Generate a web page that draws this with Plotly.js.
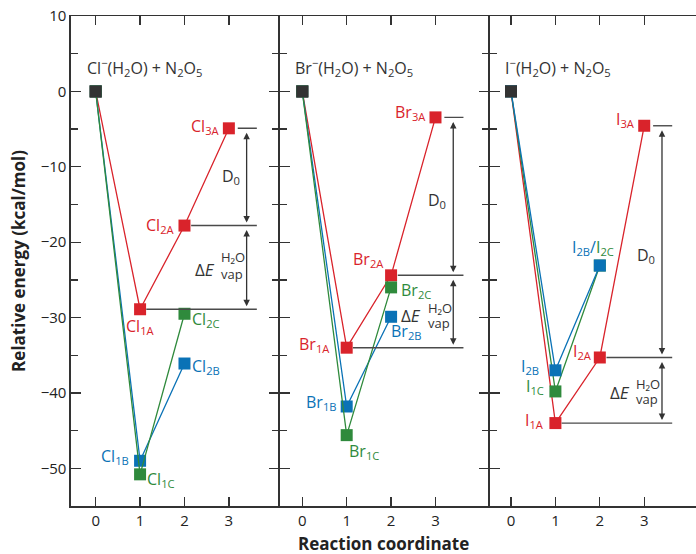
<!DOCTYPE html>
<html>
<head>
<meta charset="utf-8">
<script src="https://cdn.plot.ly/plotly-3.0.1.min.js"></script>
<style>html,body{margin:0;padding:0;background:#fff;}#chart{width:696px;height:554px;}</style>
</head>
<body>
<div id="chart"></div>
<script>
// ---- data (kcal/mol) ----
const coord = [0, 1, 2, 3];
const clA = [0, -28.9, -17.8, -4.9];
const clB = [0, -49.0, -36.1];
const clC = [0, -50.8, -29.5];
const brA = [0, -34.0, -24.4, -3.45];
const brB = [0, -41.8, -29.9];
const brC = [0, -45.6, -26.0];
const iA  = [0, -44.0, -35.3, -4.56];
const iB  = [0, -37.0, -23.1];
const iC  = [0, -39.8, -23.1];
const reactantEnergy = [0];
const panelTitles = ['Cl<sup>−</sup>(H<sub>2</sub>O) + N<sub>2</sub>O<sub>5</sub>',
                     'Br<sup>−</sup>(H<sub>2</sub>O) + N<sub>2</sub>O<sub>5</sub>',
                     'I<sup>−</sup>(H<sub>2</sub>O) + N<sub>2</sub>O<sub>5</sub>'];
const tickVals = [0, 1, 2, 3];

const RED = '#d9232b', BLUE = '#0a72b6', GREEN = '#2f8a3c', BLACK = '#333333';
const FONT = 'Open Sans, Noto Sans, sans-serif';

function series(xa, ya, ys, color) {
  return {x: coord.slice(0, ys.length), y: ys, xaxis: xa, yaxis: ya, type: 'scatter',
    mode: 'lines+markers', line: {color: color, width: 1.3},
    marker: {symbol: 'square', size: 12, color: color}, hoverinfo: 'skip', showlegend: false, cliponaxis: false};
}
function start(xa, ya) {
  return {x: [coord[0]], y: reactantEnergy, xaxis: xa, yaxis: ya, type: 'scatter', mode: 'markers',
    marker: {symbol: 'square', size: 12, color: BLACK}, hoverinfo: 'skip', showlegend: false};
}
const data = [
  series('x','y', clA, RED), series('x','y', clB, BLUE), series('x','y', clC, GREEN), start('x','y'),
  series('x2','y2', brA, RED), series('x2','y2', brB, BLUE), series('x2','y2', brC, GREEN), start('x2','y2'),
  series('x3','y3', iA, RED), series('x3','y3', iC, GREEN), series('x3','y3', iB, BLUE), start('x3','y3')
];

const annotations = [];
const shapes = [];
function lab(xr, yr, x, y, text, color, xanchor, xshift, yshift, size) {
  annotations.push({xref: xr, yref: yr, x: x, y: y, text: text, showarrow: false,
    xanchor: xanchor, yanchor: 'middle', xshift: xshift, yshift: yshift,
    font: {family: FONT, size: size || 16, color: color}});
}
function hline(xr, yr, x0, x1, y) {
  shapes.push({type: 'line', xref: xr, yref: yr, x0: x0, x1: x1, y0: y, y1: y,
    line: {color: '#4a4a4a', width: 1.4}});
}
function darrow(xr, yr, x, y0, y1) {
  annotations.push({xref: xr, yref: yr, axref: xr, ayref: yr, x: x, y: y1, ax: x, ay: y0,
    text: '', showarrow: true, arrowhead: 2, startarrowhead: 2, arrowside: 'end+start',
    arrowsize: 1, arrowwidth: 1.3, arrowcolor: '#333', standoff: 3, startstandoff: 3});
}
function energyBox(xr, yr, A, d0Shift, dEShifts) {
  const ax = 3.4;
  hline(xr, yr, 3.2, 3.63, A[3]);
  hline(xr, yr, 2.15, 3.63, A[2]);
  hline(xr, yr, 1.14, 3.63, A[1]);
  darrow(xr, yr, ax, A[3], A[2]);
  darrow(xr, yr, ax, A[2], A[1]);
  lab(xr, yr, ax, (A[3] + A[2]) / 2, 'D<sub>0</sub>', BLACK, 'right', -5, d0Shift, 16);
  const m = (A[2] + A[1]) / 2;
  lab(xr, yr, ax, m, 'Δ<i>E</i>', BLACK, 'right', -30, dEShifts[0], 17);
  lab(xr, yr, ax, m, 'H₂O', BLACK, 'left', -27.5, dEShifts[1], 13);
  lab(xr, yr, ax, m, 'vap', BLACK, 'left', -27.5, dEShifts[2], 13);
}

// Cl panel
lab('x','y', -0.24, 3.2, panelTitles[0], BLACK, 'left', 0, 0, 16);
lab('x','y', coord[3], clA[3], 'Cl<sub>3A</sub>', RED, 'right', -7, 2);
lab('x','y', coord[2], clA[2], 'Cl<sub>2A</sub>', RED, 'right', -7, 0);
lab('x','y', coord[1], clA[1], 'Cl<sub>1A</sub>', RED, 'center', 0, -17);
lab('x','y', coord[2], clC[2], 'Cl<sub>2C</sub>', GREEN, 'left', 6, -6);
lab('x','y', coord[2], clB[2], 'Cl<sub>2B</sub>', BLUE, 'left', 6, -3);
lab('x','y', coord[1], clB[1], 'Cl<sub>1B</sub>', BLUE, 'right', -9, 4);
lab('x','y', coord[1], clC[1], 'Cl<sub>1C</sub>', GREEN, 'left', 5, -5);
energyBox('x','y', clA, 0, [-2, 10, -7]);

// Br panel
lab('x2','y2', -0.22, 3.2, panelTitles[1], BLACK, 'left', 0, 0, 16);
lab('x2','y2', coord[3], brA[3], 'Br<sub>3A</sub>', RED, 'right', -7, 5);
lab('x2','y2', coord[2], brA[2], 'Br<sub>2A</sub>', RED, 'right', -5, 16);
lab('x2','y2', coord[2], brC[2], 'Br<sub>2C</sub>', GREEN, 'left', 8, -3);
lab('x2','y2', coord[2], brB[2], 'Br<sub>2B</sub>', BLUE, 'left', -2, -15);
lab('x2','y2', coord[1], brA[1], 'Br<sub>1A</sub>', RED, 'right', -15, 3);
lab('x2','y2', coord[1], brB[1], 'Br<sub>1B</sub>', BLUE, 'right', -8, 4);
lab('x2','y2', coord[1], brC[1], 'Br<sub>1C</sub>', GREEN, 'left', 0, -16);
energyBox('x2','y2', brA, -4, [-4, 4, -11]);

// I panel
lab('x3','y3', -0.19, 3.2, panelTitles[2], BLACK, 'left', 0, 0, 16);
lab('x3','y3', coord[3], iA[3], 'I<sub>3A</sub>', RED, 'right', -7, 6);
lab('x3','y3', coord[2], iB[2], '<span style="color:' + BLUE + '">I<sub>2B</sub></span>/<span style="color:' + GREEN + '">I<sub>2C</sub></span>', BLUE, 'center', -7, 18);
lab('x3','y3', coord[2], iA[2], 'I<sub>2A</sub>', RED, 'right', -6, 6);
lab('x3','y3', coord[1], iB[1], 'I<sub>2B</sub>', BLUE, 'right', -14, 4);
lab('x3','y3', coord[1], iC[1], 'I<sub>1C</sub>', GREEN, 'right', -9, 5);
lab('x3','y3', coord[1], iA[1], 'I<sub>1A</sub>', RED, 'right', -9, 3);
energyBox('x3','y3', iA, -14, [-2, 6, -9]);

// axis titles
annotations.push({xref: 'paper', yref: 'paper', x: -0.085, y: 0.5, text: '<b>Relative energy (kcal/mol)</b>',
  textangle: -90, showarrow: false, xanchor: 'center', yanchor: 'middle', font: {family: FONT, size: 17, color: '#222'}});
annotations.push({xref: 'paper', yref: 'paper', x: 0.5, y: -0.076, text: '<b>Reaction coordinate</b>',
  showarrow: false, xanchor: 'center', yanchor: 'middle', font: {family: FONT, size: 17, color: '#222'}});

function xa(domain, range) {
  return {domain: domain, range: range, tickvals: tickVals, ticks: 'inside', ticklen: 9, tickwidth: 1.3,
    tickcolor: '#333', showline: true, linecolor: '#333', linewidth: 1.5, mirror: 'ticks',
    showgrid: false, zeroline: false, tickfont: {family: FONT, size: 15, color: '#222'}, fixedrange: true};
}
function ya(anchor, labels) {
  const o = {range: [-55, 10], tick0: 0, dtick: 10, ticks: 'inside', ticklen: 10, tickwidth: 1.3,
    tickcolor: '#333', showline: true, linecolor: '#333', linewidth: 1.6, mirror: 'ticks',
    minor: {dtick: 5, tick0: 0, ticks: 'inside', ticklen: 7, tickwidth: 1.3, tickcolor: '#333', showgrid: false},
    showgrid: false, zeroline: false, showticklabels: labels, anchor: anchor,
    tickfont: {family: FONT, size: 15, color: '#222'}, fixedrange: true};
  return o;
}
const layout = {
  width: 696, height: 554, margin: {l: 71, r: 0, t: 16, b: 48}, paper_bgcolor: '#fff', plot_bgcolor: '#fff',
  showlegend: false,
  xaxis: Object.assign(xa([0, 0.33208], [-0.556, 4.119]), {anchor: 'y'}),
  xaxis2: Object.assign(xa([0.33448, 0.66808], [-0.501, 4.195]), {anchor: 'y2'}),
  xaxis3: Object.assign(xa([0.67048, 1], [-0.472, 4.166]), {anchor: 'y3'}),
  yaxis: ya('x', true),
  yaxis2: Object.assign(ya('x2', false), {matches: 'y'}),
  yaxis3: Object.assign(ya('x3', false), {matches: 'y', mirror: false}),
  yaxis4: Object.assign(ya('x3', false), {overlaying: 'y3', side: 'right', showline: false, mirror: false}),
  annotations: annotations, shapes: shapes
};
Plotly.newPlot('chart', data, layout, {displayModeBar: false, staticPlot: true});
</script>
</body>
</html>
